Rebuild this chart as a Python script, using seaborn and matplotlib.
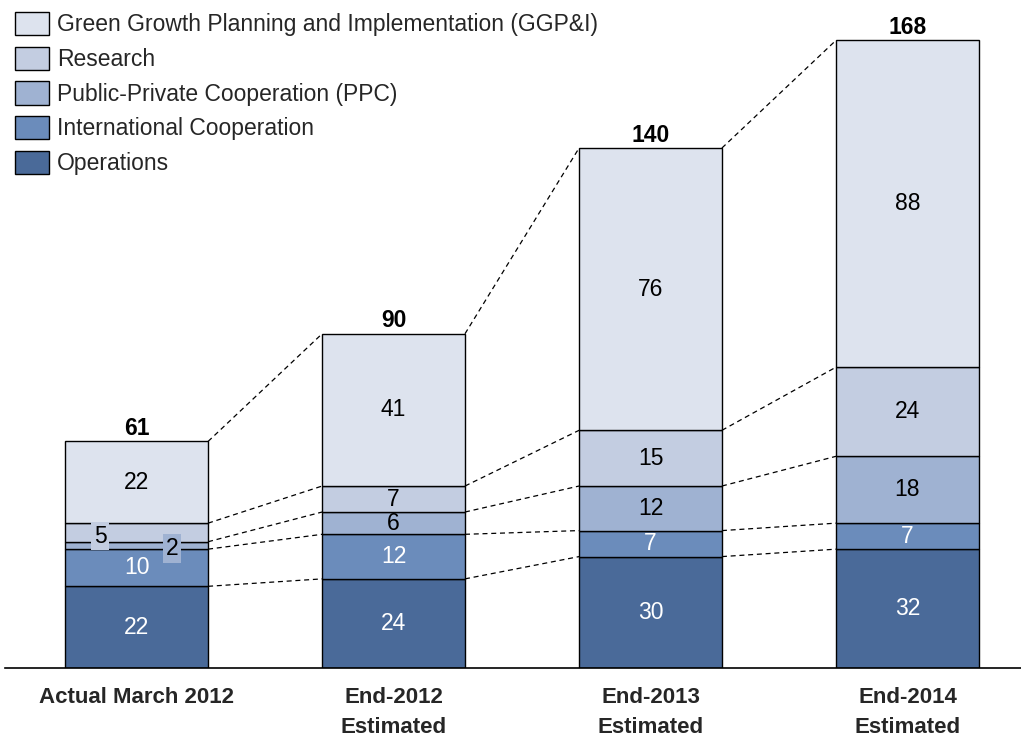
import matplotlib
matplotlib.use("Agg")
import matplotlib.pyplot as plt
import seaborn as sns
import pandas as pd
import numpy as np
from matplotlib.patches import Patch

categories = ["Actual March 2012", "End-2012\nEstimated", "End-2013\nEstimated", "End-2014\nEstimated"]
series_names = ["Operations", "International Cooperation", "Public-Private Cooperation (PPC)",
                "Research", "Green Growth Planning and Implementation (GGP&I)"]
operations = [22, 24, 30, 32]
international = [10, 12, 7, 7]
ppc = [2, 6, 12, 18]
research = [5, 7, 15, 24]
ggpi = [22, 41, 76, 88]
totals = [61, 90, 140, 168]

colors = ["#4a6a99", "#6b8cbb", "#9fb2d2", "#c3cde1", "#dde3ee"]
text_colors = ["white", "white", "black", "black", "black"]

sns.set_theme(style="white")
plt.rcParams["font.family"] = ["Liberation Sans", "DejaVu Sans"]

fig = plt.figure(figsize=(10.21, 7.37), dpi=100)
ax = fig.add_axes([0.005, 0.0936, 0.995, 0.9064])

values = [operations, international, ppc, research, ggpi]
width = 0.556
bottom = np.zeros(len(categories))
bottoms = []
for name, vals, col in zip(series_names, values, colors):
    df = pd.DataFrame({"cat": categories, "val": vals})
    sns.barplot(data=df, x="cat", y="val", order=categories, color=col, saturation=1,
                width=width, bottom=bottom.copy(), errorbar=None, edgecolor="black",
                linewidth=1.0, ax=ax)
    bottoms.append(bottom.copy())
    bottom = bottom + np.array(vals)

# connecting dashed lines
cum = np.cumsum(np.array(values), axis=0)
for lvl in range(cum.shape[0]):
    for i in range(len(categories) - 1):
        ax.plot([i + width / 2, i + 1 - width / 2], [cum[lvl, i], cum[lvl, i + 1]],
                ls=(0, (4, 3)), color="black", lw=0.9, zorder=1)

# segment labels
fs = 16.5
for s, vals in enumerate(values):
    for i, v in enumerate(vals):
        ymid = bottoms[s][i] + v / 2
        if i == 0 and s == 3:
            ax.text(i - 0.142, ymid - 1.0, str(v), ha="center", va="center", fontsize=fs,
                    color="black", bbox=dict(boxstyle="square,pad=0.12", fc=colors[3], ec="none"))
        elif i == 0 and s == 2:
            ax.text(i + 0.138, ymid - 0.8, str(v), ha="center", va="center", fontsize=fs,
                    color="black", bbox=dict(boxstyle="square,pad=0.12", fc=colors[2], ec="none"))
        else:
            ax.text(i, ymid, str(v), ha="center", va="center", fontsize=fs, color=text_colors[s])

for i, t in enumerate(totals):
    ax.annotate(str(t), (i, cum[-1, i]), xytext=(0, 1), textcoords="offset points",
                ha="center", va="bottom", fontsize=16.5, fontweight="bold", color="black")

ax.set_xlim(-0.512, 3.442)
ax.set_ylim(0, 179.85)
ax.set_xlabel("")
ax.set_ylabel("")
ax.set_yticks([])
for sp in ["top", "right", "left"]:
    ax.spines[sp].set_visible(False)
ax.spines["bottom"].set_color("black")
ax.spines["bottom"].set_linewidth(1.2)
ax.tick_params(axis="x", length=0, pad=14)
ax.set_xticks(range(len(categories)))
ax.set_xticklabels(categories, fontsize=16, fontweight="bold",
                   linespacing=1.55, va="top")

handles = [Patch(facecolor=colors[k], edgecolor="black", linewidth=1.0) for k in range(4, -1, -1)]
labels = [series_names[k] for k in range(4, -1, -1)]
fig.legend(handles, labels, loc="upper left", bbox_to_anchor=(0.0147, 0.9837), frameon=False,
           fontsize=16.5, handlelength=1.48, handleheight=1.18, handletextpad=0.35,
           labelspacing=0.45, borderaxespad=0, borderpad=0)

fig.savefig("out.png", dpi=100)
